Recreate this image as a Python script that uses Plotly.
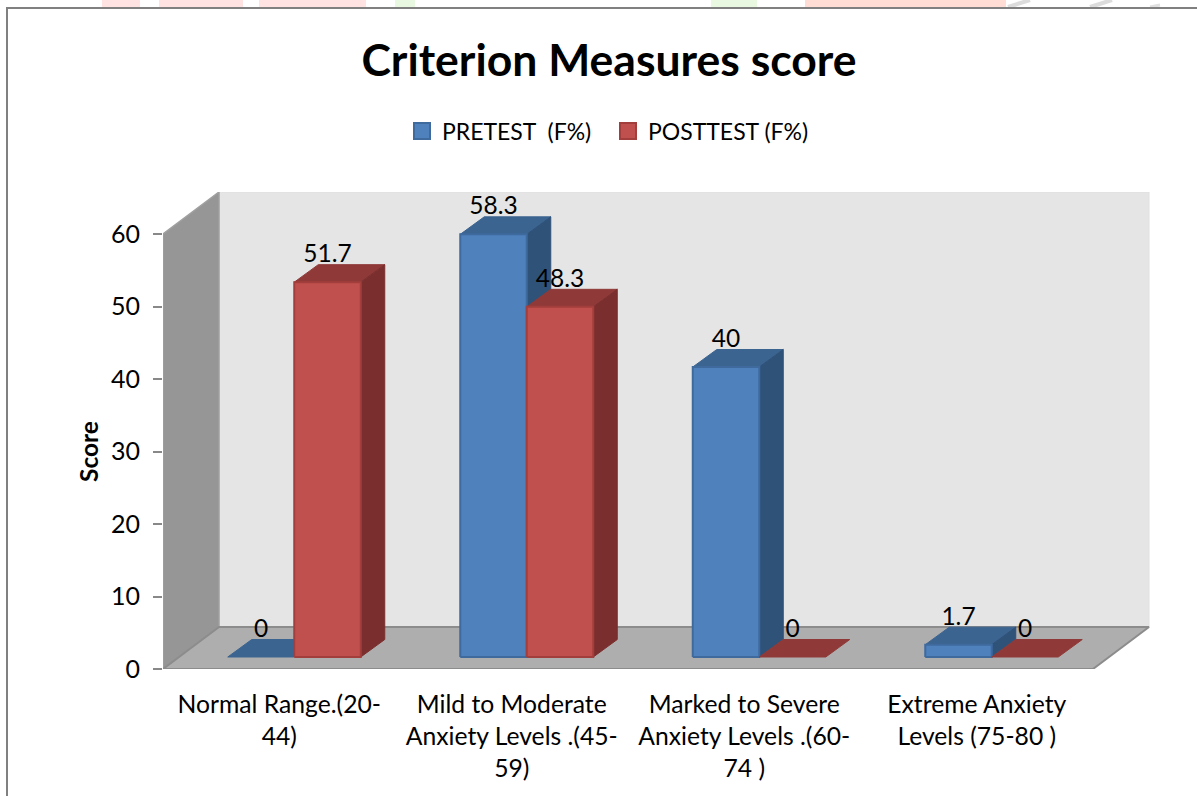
import plotly.graph_objects as go

categories = ["Normal Range.(20-<br>44)",
              "Mild to Moderate<br>Anxiety Levels .(45-<br>59)",
              "Marked to Severe<br>Anxiety Levels .(60-<br>74 )",
              "Extreme Anxiety<br>Levels (75-80 )"]
pretest = [0, 58.3, 40, 1.7]
posttest = [51.7, 48.3, 0, 0]
y_ticks = [0, 10, 20, 30, 40, 50, 60]
series_names = ["PRETEST\u00a0\u00a0(F%)", "POSTTEST (F%)"]

W, H = 1197, 796
FONT = "Lato"
PX_X = 232.5   # pixels per category
PX_Y = 7.25    # pixels per score unit
def ux(p): return p / PX_X
def uy(p): return p / PX_Y
WALL_DX, WALL_DY = ux(56), uy(42)
BAR_DX, BAR_DY = ux(24), uy(17.5)
BASE_X, BASE_Y = ux(15), uy(12)
BAR_W = ux(66.5)

PRE = dict(front="#4F81BD", top="#3C6491", side="#2F5279", edge="#3E6A9E")
POST = dict(front="#C0504D", top="#8F3A38", side="#7A2F2E", edge="#A23F3D")

fig = go.Figure()

def poly(xs, ys, fill, line=None, lw=1):
    fig.add_trace(go.Scatter(
        x=xs + xs[:1], y=ys + ys[:1], mode="lines", fill="toself", fillcolor=fill,
        line=dict(color=line or fill, width=lw), hoverinfo="skip", showlegend=False))

# walls and floor
poly([-0.5 + WALL_DX, 3.5 + WALL_DX, 3.5 + WALL_DX, -0.5 + WALL_DX],
     [WALL_DY, WALL_DY, 60 + WALL_DY, 60 + WALL_DY], "#E5E5E5", "#E0E0E0", 1)
poly([-0.5, -0.5 + WALL_DX, -0.5 + WALL_DX, -0.5],
     [0, WALL_DY, 60 + WALL_DY, 60], "#969696", "#A0A0A0", 1.5)
poly([-0.5, 3.5, 3.5 + WALL_DX, -0.5 + WALL_DX],
     [0, 0, WALL_DY, WALL_DY], "#AEAEAE", "#8C8C8C", 2)

def bar(i, side, value, c):
    """One projected 3D column for category i; side -1 = pretest, 0 = posttest start."""
    x0 = i + BASE_X + side * BAR_W
    x1 = x0 + BAR_W
    y0 = BASE_Y
    y1 = BASE_Y + value
    poly([x0, x1, x1 + BAR_DX, x0 + BAR_DX],
         [y1, y1, y1 + BAR_DY, y1 + BAR_DY], c["top"], c["top"], 1)
    if value > 0:
        poly([x1, x1 + BAR_DX, x1 + BAR_DX, x1],
             [y0, y0 + BAR_DY, y1 + BAR_DY, y1], c["side"], c["side"], 1)
        poly([x0, x1, x1, x0], [y0, y0, y1, y1], c["front"], c["edge"], 2)

for i in range(len(categories)):
    bar(i, -1, pretest[i], PRE)
    bar(i, 0, posttest[i], POST)

# data labels
lab_x, lab_y, lab_t = [], [], []
for i in range(len(categories)):
    for side, vals in ((-1, pretest), (0, posttest)):
        lab_x.append(i + BASE_X + side * BAR_W + BAR_W / 2)
        lab_y.append(BASE_Y + vals[i] + uy(26))
        lab_t.append(f"{vals[i]:g}")
fig.add_trace(go.Scatter(x=lab_x, y=lab_y, text=lab_t, mode="text",
                         textposition="middle center",
                         textfont=dict(family=FONT, size=24.5, color="#000"),
                         hoverinfo="skip", showlegend=False))

# legend entries
for name, c, lg in zip(series_names, (PRE, POST), ("legend", "legend2")):
    fig.add_trace(go.Scatter(x=[None], y=[None], mode="markers", name=name, legend=lg,
                             marker=dict(symbol="square", size=16, color=c["front"],
                                         line=dict(color=c["edge"], width=2))))

def rect(x0, x1, color, y0=0, y1=7):
    return dict(type="rect", xref="paper", yref="paper", layer="below",
                x0=x0 / W, x1=x1 / W, y0=1 - y1 / H, y1=1 - y0 / H,
                fillcolor=color, line=dict(width=0))

def seg(x0, y0, x1, y1, color, width):
    return dict(type="line", xref="paper", yref="paper", layer="above",
                x0=x0 / W, x1=x1 / W, y0=1 - y0 / H, y1=1 - y1 / H,
                line=dict(color=color, width=width))

shapes = [rect(102, 140, "#FFE3E3"), rect(159, 243, "#FFE3E3"), rect(259, 366, "#FFE3E3"),
          rect(395, 415, "#E9F8E0"), rect(711, 757, "#E9F8E0"), rect(805, 1006, "#FFDDD5"),
          seg(1008, 7, 1030, 0, "#DCDCDC", 4), seg(1090, 7, 1112, 0, "#DCDCDC", 4),
          seg(1150, 7, 1160, 5, "#E0E0E0", 3),
          seg(6, 8, W, 8, "#808080", 2), seg(7, 8, 7, H, "#808080", 2)]

legend_common = dict(orientation="h", xanchor="left", y=1 - 131 / H, yanchor="middle",
                     font=dict(family=FONT, size=23, color="#000"), bgcolor="rgba(0,0,0,0)")

fig.update_layout(
    width=W, height=H, autosize=False,
    margin=dict(l=0, r=0, t=0, b=0),
    paper_bgcolor="white", plot_bgcolor="rgba(0,0,0,0)",
    font=dict(family=FONT, size=24, color="#000"),
    title=dict(text="<b>Criterion Measures score</b>", x=609 / W, xanchor="center",
               y=1 - 60 / H, yanchor="middle", font=dict(family=FONT, size=44.5, color="#000")),
    legend=dict(x=402 / W, **legend_common),
    legend2=dict(x=608 / W, **legend_common),
    xaxis=dict(domain=[163 / W, 1150 / W], range=[-0.5, -0.5 + 987 / PX_X], automargin=False,
               tickvals=list(range(len(categories))), ticktext=categories,
               tickangle=0, showgrid=False, zeroline=False, showline=False, ticks="",
               ticklabelstandoff=18, tickfont=dict(family=FONT, size=24.7, color="#000")),
    yaxis=dict(domain=[1 - 669 / H, 1 - 192 / H], range=[0, 477 / PX_Y], automargin=False,
               tickvals=y_ticks, showgrid=False, zeroline=False, showline=False,
               ticks="outside", ticklen=9, tickwidth=2, tickcolor="#888888",
               ticklabelstandoff=8, tickfont=dict(family=FONT, size=25, color="#000")),
    annotations=[dict(text="<b>Score</b>", xref="paper", yref="paper", x=88 / W, y=1 - 452 / H,
                      showarrow=False, textangle=-90, xanchor="center", yanchor="middle",
                      font=dict(family=FONT, size=24.5, color="#000"))],
    shapes=shapes,
)

fig.write_html("out.html", config=dict(displayModeBar=False),
               post_script="document.body.style.margin='0';document.body.style.overflow='hidden';")
